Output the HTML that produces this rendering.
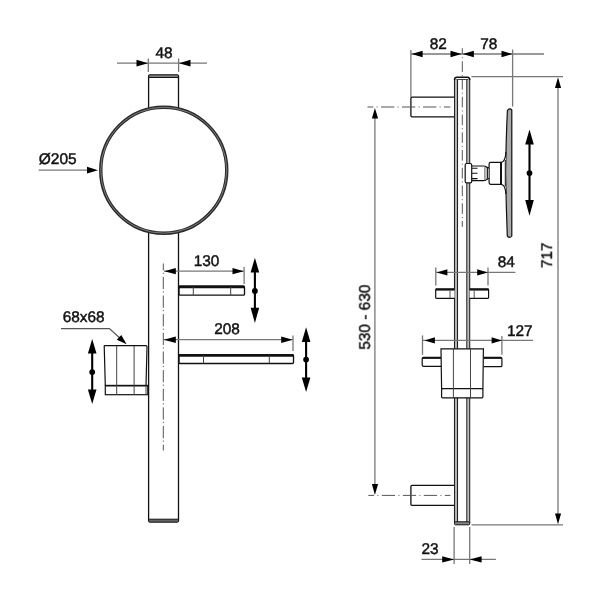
<!DOCTYPE html>
<html><head><meta charset="utf-8">
<style>
html,body{margin:0;padding:0;background:#fff;}
svg{display:block;}
text{font-family:"Liberation Sans",sans-serif;font-size:15.4px;fill:#111;}
.t{opacity:0.999;will-change:transform;stroke:#111;stroke-width:0.45px;text-rendering:geometricPrecision;}
</style></head>
<body>
<svg width="603" height="603" viewBox="0 0 603 603">
<rect width="603" height="603" fill="#fff"/>
<!-- ============ LEFT VIEW ============ -->
<g fill="none" stroke-linecap="butt">
  <!-- centerline of tube -->
  <line x1="163.3" y1="263.5" x2="163.3" y2="450.5" stroke="#555" stroke-width="1" stroke-dasharray="12.2 2.3 1.2 2.95" stroke-dashoffset="5.3"/>
  <!-- tube -->
  <line x1="148.6" y1="76" x2="148.6" y2="521" stroke="#111" stroke-width="1.3"/>
  <line x1="178.5" y1="76" x2="178.5" y2="521" stroke="#111" stroke-width="1.3"/>
  <rect x="148.6" y="74.9" width="29.9" height="2.5" rx="1" fill="#aaa" stroke="#111" stroke-width="1.1"/>
  <rect x="148.6" y="519.2" width="29.9" height="3" fill="#666" stroke="#111" stroke-width="1" rx="1"/>
  <!-- mirror circle -->
  <circle cx="163.75" cy="170.2" r="63" fill="#fff" stroke="#2a2a2a" stroke-width="3.4"/>
  <circle cx="163.75" cy="170.2" r="63" fill="none" stroke="#888" stroke-width="0.9"/>
</g>
<!-- 48 dimension -->
<g stroke="#777" stroke-width="1.3" fill="none">
  <line x1="117" y1="63.2" x2="207" y2="63.2"/>
  <line x1="148.3" y1="58.5" x2="148.3" y2="72"/>
  <line x1="178.6" y1="58.5" x2="178.6" y2="72"/>
</g>
<g fill="#000">
  <path d="M148 63.2 L136.5 59.8 L136.5 66.6 Z"/>
  <path d="M179 63.2 L190.5 59.8 L190.5 66.6 Z"/>
</g>
<text class="t" x="164" y="58" text-anchor="middle">48</text>
<!-- Ø205 -->
<line x1="38.6" y1="170.2" x2="90" y2="170.2" stroke="#777" stroke-width="1.3"/>
<path d="M98 170.2 L87 166.8 L87 173.6 Z" fill="#000"/>
<text class="t" x="38.8" y="164.4" textLength="37.9" lengthAdjust="spacingAndGlyphs">Ø205</text>

<!-- small shelf 130 -->
<g fill="none" stroke="#111" stroke-width="1.35">
  <rect x="179" y="286.2" width="65.5" height="8.9" rx="1.2"/>
  <line x1="179" y1="286.9" x2="244.5" y2="286.9" stroke-width="2.8"/>
  <line x1="193.3" y1="287" x2="193.3" y2="295" stroke="#444" stroke-width="1"/>
  <line x1="230.7" y1="287" x2="230.7" y2="295" stroke="#444" stroke-width="1"/>
</g>
<g stroke="#777" stroke-width="1.3" fill="none">
  <line x1="164" y1="271.2" x2="243.5" y2="271.2"/>
  <line x1="244.1" y1="267" x2="244.1" y2="284"/>
</g>
<g fill="#000">
  <path d="M164.3 271.2 L175.8 267.9 L175.8 274.3 Z"/>
  <path d="M243.8 271.2 L232.5 267.9 L232.5 274.3 Z"/>
</g>
<text class="t" x="206.5" y="265.9" text-anchor="middle">130</text>

<!-- big shelf 208 -->
<g fill="none" stroke="#111" stroke-width="1.35">
  <rect x="179" y="354.6" width="114.5" height="8.9" rx="1.2"/>
  <line x1="179" y1="355.3" x2="293.5" y2="355.3" stroke-width="2.8"/>
  <line x1="203.5" y1="355.5" x2="203.5" y2="363.4" stroke="#444" stroke-width="1"/>
  <line x1="269.3" y1="355.5" x2="269.3" y2="363.4" stroke="#444" stroke-width="1"/>
</g>
<g stroke="#777" stroke-width="1.3" fill="none">
  <line x1="164" y1="339.7" x2="292.5" y2="339.7"/>
  <line x1="293" y1="335.5" x2="293" y2="351"/>
</g>
<g fill="#000">
  <path d="M163.8 339.7 L175.8 336.5 L175.8 342.9 Z"/>
  <path d="M292.7 339.7 L281.2 336.5 L281.2 342.9 Z"/>
</g>
<text class="t" x="227.1" y="333.5" text-anchor="middle">208</text>

<!-- cup holder 68x68 -->
<g fill="none" stroke="#111" stroke-width="1.2">
  <path d="M104.2 345.6 L146 345.6 Q147 345.6 147 347 L146 385.4 M104.2 345.6 L105.3 385.4"/>
  <rect x="105.3" y="385.4" width="42.5" height="9.3"/>
  <line x1="105.3" y1="385.7" x2="147.8" y2="385.7" stroke-width="1.5"/>
  <line x1="116.7" y1="346" x2="116.7" y2="394.7" stroke="#444" stroke-width="1"/>
  <line x1="134.1" y1="346" x2="134.1" y2="394.7" stroke="#444" stroke-width="1"/>
  <line x1="146" y1="385.6" x2="146" y2="394.7" stroke="#444" stroke-width="1"/>
</g>
<polyline points="61,328.6 109.4,328.6 121.5,339.5" fill="none" stroke="#555" stroke-width="1.2"/>
<path d="M126.6 344.2 L116.8 339.8 L121.3 335 Z" fill="#000"/>
<text class="t" x="62.7" y="321.8">68x68</text>

<!-- vertical double arrows (left view) -->
<g id="va" stroke="#000" stroke-width="2.1" fill="#000">
  <line x1="254.9" y1="270" x2="254.9" y2="310"/>
  <path d="M254.9 257.7 L250.6 272.5 L259.2 272.5 Z" stroke="none"/>
  <path d="M254.9 323 L250.6 307.7 L259.2 307.7 Z" stroke="none"/>
  <circle cx="254.9" cy="290.9" r="2.9" stroke="none"/>

  <line x1="306.1" y1="340" x2="306.1" y2="380"/>
  <path d="M306.1 327.3 L301.8 341.9 L310.4 341.9 Z" stroke="none"/>
  <path d="M306.1 392 L301.8 377.5 L310.4 377.5 Z" stroke="none"/>
  <circle cx="306.1" cy="359.6" r="2.9" stroke="none"/>

  <line x1="92.2" y1="352" x2="92.2" y2="391"/>
  <path d="M92.2 339 L87.9 353.6 L96.5 353.6 Z" stroke="none"/>
  <path d="M92.2 404 L87.9 389.4 L96.5 389.4 Z" stroke="none"/>
  <circle cx="92.2" cy="372.1" r="2.9" stroke="none"/>

  <line x1="529.5" y1="143" x2="529.5" y2="202"/>
  <path d="M529.5 129.6 L525.2 144.4 L533.8 144.4 Z" stroke="none"/>
  <path d="M529.5 215.8 L525.2 200.1 L533.8 200.1 Z" stroke="none"/>
  <circle cx="529.5" cy="173.1" r="2.9" stroke="none"/>
</g>

<!-- ============ RIGHT VIEW ============ -->
<!-- rail centerline top -->
<line x1="462.3" y1="48.2" x2="462.3" y2="226.9" stroke="#555" stroke-width="1" stroke-dasharray="10.6 3.05 1 3.1" stroke-dashoffset="4.65"/>
<!-- rail -->
<g fill="none">
  <line x1="456" y1="79" x2="456" y2="522" stroke="#bbb" stroke-width="2"/>
  <line x1="468.25" y1="79" x2="468.25" y2="522" stroke="#bbb" stroke-width="2"/>
  <line x1="454.5" y1="78" x2="454.5" y2="523" stroke="#222" stroke-width="1.1"/>
  <line x1="457.5" y1="79" x2="457.5" y2="522" stroke="#222" stroke-width="1.1"/>
  <line x1="466.8" y1="79" x2="466.8" y2="522" stroke="#222" stroke-width="1.1"/>
  <line x1="469.7" y1="78" x2="469.7" y2="523" stroke="#222" stroke-width="1.1"/>
  <path d="M454.5 80 Q454.5 77.3 457 77.3 L467.3 77.3 Q469.7 77.3 469.7 80" stroke="#111" stroke-width="1.4"/>
  <line x1="456.5" y1="79.5" x2="468" y2="79.5" stroke="#444" stroke-width="1"/>
  <rect x="454.5" y="521.8" width="15.2" height="3" fill="#888" stroke="#111" stroke-width="1" rx="1"/>
</g>
<!-- brackets -->
<g fill="#fff" stroke="#111" stroke-width="1.3">
  <path d="M454 97.2 L412 97.2 Q410.9 97.2 410.9 98.3 L410.9 115.7 Q410.9 116.8 412 116.8 L454 116.8"/>
  <path d="M454 485.3 L412 485.3 Q410.9 485.3 410.9 486.4 L410.9 504.3 Q410.9 505.4 412 505.4 L454 505.4"/>
</g>
<g stroke="#555" stroke-width="1" stroke-dasharray="13.3 3.3 1 3.4">
  <line x1="367.5" y1="107" x2="450.4" y2="107" stroke-dashoffset="7.5"/>
  <line x1="368.3" y1="495.4" x2="450.4" y2="495.4" stroke-dashoffset="7.5"/>
</g>

<!-- 82 / 78 dims -->
<g stroke="#777" stroke-width="1.3" fill="none">
  <line x1="411" y1="54" x2="544" y2="54" />
  <line x1="410.9" y1="50" x2="410.9" y2="97"/>
  <line x1="512.6" y1="49.5" x2="512.6" y2="106.5"/>
  <line x1="471.4" y1="76.7" x2="563" y2="76.7"/>
  <line x1="471.6" y1="524.9" x2="563" y2="524.9"/>
</g>
<g fill="#000">
  <path d="M411.6 54 L422.6 50.7 L422.6 57.3 Z"/>
  <path d="M461.6 54 L450.5 50.7 L450.5 57.3 Z"/>
  <path d="M462.6 54 L473.9 50.7 L473.9 57.3 Z"/>
  <path d="M512.4 54 L501.5 50.7 L501.5 57.3 Z"/>
</g>
<text class="t" x="438.2" y="49.1" text-anchor="middle">82</text>
<text class="t" x="488.8" y="49.2" text-anchor="middle">78</text>

<!-- mirror side view -->
<g stroke="#111" stroke-width="1.2">
  <path d="M507.4 110.5 Q509.6 107.6 511.8 110 L511.8 236 Q509.6 238.8 507.3 236 Q506 200 505.6 173 Q506 140 507.4 110.5 Z" fill="#aaa"/>
  <!-- flare -->
  <path d="M505.9 152 Q505.6 158.5 503.5 161 Q502.5 162.3 501 162.3 L501 184.3 Q502.5 184.3 503.5 185.6 Q505.6 188 505.9 194" fill="#fff"/>
  <line x1="505.3" y1="160" x2="505.3" y2="186.5" stroke-width="1"/>
  <!-- cylinder -->
  <path d="M501 162.3 L490.5 162.3 Q489.1 162.3 489.1 164 L489.1 182.6 Q489.1 184.3 490.5 184.3 L501 184.3" fill="#fff"/>
  <line x1="501" y1="162.3" x2="501" y2="184.3" stroke-width="2"/>
  <rect x="485" y="167.2" width="4" height="12.5" fill="#bbb" stroke="none"/>
  <!-- collar -->
  <path d="M471.7 166 L483.5 166 Q485.5 166 486.5 167 Q487.3 167.8 489 167.8 M471.7 180.7 L483.5 180.7 Q485.5 180.7 486.5 179.6 Q487.3 178.6 489 178.6" fill="none"/>
  <line x1="487.6" y1="168" x2="487.6" y2="178.4" stroke-width="1"/>
  <line x1="484.5" y1="166.5" x2="484.5" y2="180.2" stroke="#999" stroke-width="1"/>
  <path d="M471.7 168.3 L477.5 168.3 M471.7 173.2 L477.5 173.2 M471.7 178.6 L477.5 178.6" fill="none" stroke-width="1.1"/>
  <!-- clamp -->
  <rect x="465.2" y="163.5" width="6.5" height="19.4" rx="1.5" fill="#fff"/>
</g>

<!-- 84 shelf -->
<g fill="#fff" stroke="#111" stroke-width="1.2">
  <path d="M454.6 289.2 L436.5 289.2 Q435.7 289.2 435.7 290 L435.7 297.5 Q435.7 298.3 436.5 298.3 L454.6 298.3"/>
  <path d="M469.6 289.2 L487.8 289.2 Q488.6 289.2 488.6 290 L488.6 297.5 Q488.6 298.3 487.8 298.3 L469.6 298.3"/>
  <line x1="435.7" y1="289.5" x2="454.6" y2="289.5" stroke-width="2.2"/>
  <line x1="469.6" y1="289.5" x2="488.6" y2="289.5" stroke-width="2.2"/>
  <line x1="450" y1="290.5" x2="450" y2="298" stroke="#555" stroke-width="1"/>
  <line x1="474.2" y1="290.5" x2="474.2" y2="298" stroke="#555" stroke-width="1"/>
</g>
<g stroke="#777" stroke-width="1.3" fill="none">
  <line x1="436" y1="272.4" x2="515.4" y2="272.4"/>
  <line x1="435.8" y1="267.4" x2="435.8" y2="285.6"/>
  <line x1="488" y1="267.4" x2="488" y2="285.6"/>
</g>
<g fill="#000">
  <path d="M436.6 272.4 L447.4 269.2 L447.4 275.6 Z"/>
  <path d="M488 272.4 L477.2 269.2 L477.2 275.6 Z"/>
</g>
<text class="t" x="506.2" y="267.1" text-anchor="middle">84</text>

<!-- 127 cup side -->
<g fill="#fff" stroke="#111" stroke-width="1.2">
  <path d="M441 357.3 L423.5 357.3 Q422.2 357.3 422.2 358.6 L422.2 365 Q422.2 366.3 423.5 366.3 L441 366.3"/>
  <path d="M483.6 357.4 L500.6 357.4 Q501.9 357.4 501.9 358.7 L501.9 365.4 Q501.9 366.7 500.6 366.7 L483.6 366.7"/>
  <line x1="422.5" y1="358" x2="441" y2="358" stroke-width="1.8"/>
  <line x1="483.6" y1="358" x2="501.6" y2="358" stroke-width="1.8"/>
  <path d="M441 348.8 L483.4 348.8 L482.9 388.7 L441.6 388.7 Z"/>
  <rect x="441.6" y="388.7" width="41.3" height="9.1" rx="1"/>
  
  <line x1="453.4" y1="349" x2="453.4" y2="398" stroke="#444" stroke-width="1"/>
  <line x1="470.5" y1="349" x2="470.5" y2="398" stroke="#444" stroke-width="1"/>
</g>
<g stroke="#777" stroke-width="1.3" fill="none">
  <line x1="423" y1="340.4" x2="533" y2="340.4"/>
  <line x1="422.5" y1="335.4" x2="422.5" y2="354.8"/>
  <line x1="501.9" y1="335.9" x2="501.9" y2="354.8"/>
</g>
<g fill="#000">
  <path d="M424.5 340.4 L434.9 337.2 L434.9 343.6 Z"/>
  <path d="M501.9 340.4 L491.6 337.2 L491.6 343.6 Z"/>
</g>
<text class="t" x="519.8" y="335.9" text-anchor="middle">127</text>

<!-- 530-630 dim -->
<line x1="374.9" y1="117" x2="374.9" y2="485" stroke="#777" stroke-width="1.3"/>
<path d="M374.9 107.9 L371.9 118.5 L378.1 118.5 Z" fill="#000"/>
<path d="M374.9 494.9 L371.9 483.9 L378.1 483.9 Z" fill="#000"/>
<text class="t" transform="translate(369.8 317.2) rotate(-90)" text-anchor="middle">530 - 630</text>

<!-- 717 dim -->
<line x1="558" y1="86" x2="558" y2="515" stroke="#777" stroke-width="1.3"/>
<path d="M558 77.2 L555 87.9 L561.1 87.9 Z" fill="#000"/>
<path d="M558 524.3 L555 513.4 L561.1 513.4 Z" fill="#000"/>
<text class="t" transform="translate(551.9 255.4) rotate(-90)" text-anchor="middle">717</text>

<!-- 23 dim -->
<g stroke="#777" stroke-width="1.3" fill="none">
  <line x1="421.5" y1="559.4" x2="495.9" y2="559.4"/>
  <line x1="454.1" y1="527" x2="454.1" y2="564"/>
  <line x1="469.7" y1="527" x2="469.7" y2="564"/>
</g>
<g fill="#000">
  <path d="M454.1 559.4 L442.2 556.2 L442.2 562.6 Z"/>
  <path d="M469.7 559.4 L481.6 556.2 L481.6 562.6 Z"/>
</g>
<text class="t" x="430.1" y="554.2" text-anchor="middle">23</text>
</svg>
</body></html>
